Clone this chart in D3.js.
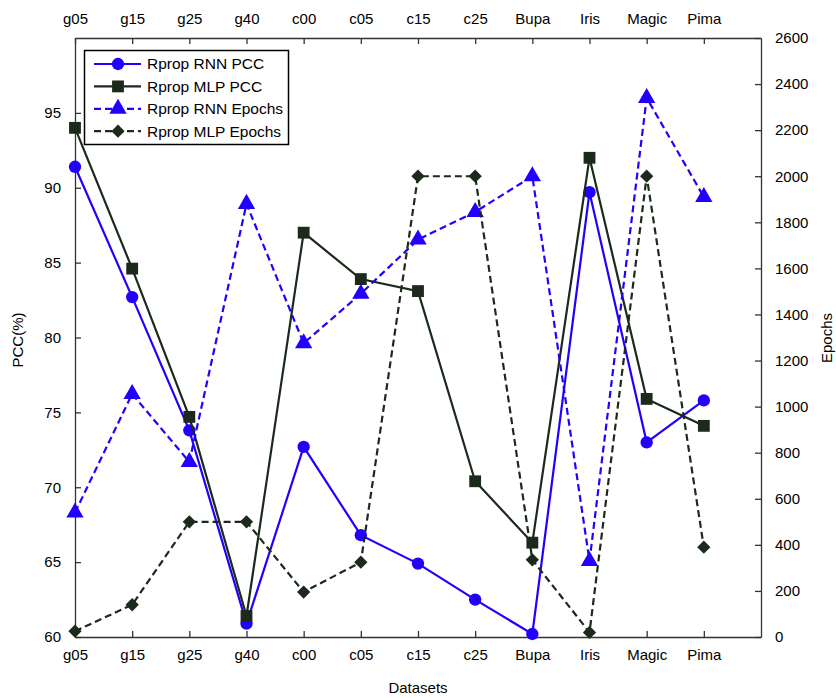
<!DOCTYPE html>
<html>
<head>
<meta charset="utf-8">
<script src="https://cdn.jsdelivr.net/npm/d3@7"></script>
<style>
  body { margin: 0; background: #fff; }
  svg { font-family: "Liberation Sans", Arial, sans-serif; }
  .axis text { font-size: 15px; fill: #000; }
  .axis path, .axis line { stroke: #333; stroke-width: 1.3; }
</style>
</head>
<body>
<svg width="836" height="698"></svg>
<script>
// categories (datasets)
var datasets = ["g05", "g15", "g25", "g40", "c00", "c05", "c15", "c25", "Bupa", "Iris", "Magic", "Pima"];
// PCC (%) values
var rnnPcc = [91.4, 82.7, 73.8, 60.9, 72.7, 66.8, 64.9, 62.5, 60.2, 89.7, 73.0, 75.8];
var mlpPcc = [94.0, 84.6, 74.7, 61.4, 87.0, 83.9, 83.1, 70.4, 66.3, 92.0, 75.9, 74.1];
// epochs
var rnnEpochs = [540, 1055, 760, 1880, 1275, 1490, 1725, 1845, 2000, 330, 2340, 1910];
var mlpEpochs = [25, 140, 500, 500, 195, 325, 2000, 2000, 335, 20, 2000, 390];
// tick values
var pccTicks = [60, 65, 70, 75, 80, 85, 90, 95];
var epochTicks = d3.range(0, 2601, 200);

var blue = "#2200ff", dark = "#1b2a1b";

var svg = d3.select("svg"),
    plotLeft = 75, plotRight = 761, plotTop = 38, plotBottom = 637;

// x축 : 인덱스 기준
var x = d3.scaleLinear().domain([0, datasets.length]).range([plotLeft, plotRight]);
var yL = d3.scaleLinear().domain([60, 100]).range([plotBottom, plotTop]);
var yR = d3.scaleLinear().domain([0, 2600]).range([plotBottom, plotTop]);

var idx = d3.range(datasets.length);

// 축 생성
svg.append("g").attr("class", "axis")
  .attr("transform", "translate(0," + plotBottom + ")")
  .call(d3.axisBottom(x).tickValues(idx).tickFormat(function(i) { return datasets[i]; })
    .tickSizeInner(-6).tickSizeOuter(0).tickPadding(12));

svg.append("g").attr("class", "axis")
  .attr("transform", "translate(0," + plotTop + ")")
  .call(d3.axisTop(x).tickValues(idx).tickFormat(function(i) { return datasets[i]; })
    .tickSizeInner(-6).tickSizeOuter(0).tickPadding(14));

svg.append("g").attr("class", "axis")
  .attr("transform", "translate(" + plotLeft + ",0)")
  .call(d3.axisLeft(yL).tickValues(pccTicks).tickSizeInner(-6).tickSizeOuter(0).tickPadding(14));

svg.append("g").attr("class", "axis")
  .attr("transform", "translate(" + plotRight + ",0)")
  .call(d3.axisRight(yR).tickValues(epochTicks).tickFormat(d3.format("d"))
    .tickSizeInner(-6).tickSizeOuter(0).tickPadding(14));

// 축 이름
svg.append("text").attr("x", 418).attr("y", 693).attr("text-anchor", "middle")
  .attr("font-size", 15).text("Datasets");
svg.append("text").attr("transform", "translate(23,340) rotate(-90)")
  .attr("text-anchor", "middle").attr("font-size", 15).text("PCC(%)");
svg.append("text").attr("transform", "translate(832,338) rotate(-90)")
  .attr("text-anchor", "middle").attr("font-size", 15).text("Epochs");

// 시리즈 정의 (rot: 마커 회전)
var series = [
  { name: "Rprop RNN PCC", values: rnnPcc, y: yL, color: blue, dash: null, symbol: d3.symbolCircle, size: 120, rot: 0 },
  { name: "Rprop MLP PCC", values: mlpPcc, y: yL, color: dark, dash: null, symbol: d3.symbolSquare, size: 140, rot: 0 },
  { name: "Rprop RNN Epochs", values: rnnEpochs, y: yR, color: blue, dash: "7,4", symbol: d3.symbolTriangle, size: 130, rot: 0 },
  { name: "Rprop MLP Epochs", values: mlpEpochs, y: yR, color: dark, dash: "7,4", symbol: d3.symbolSquare, size: 88, rot: 45 }
];

series.forEach(function(s) {
  var line = d3.line()
    .x(function(d, i) { return x(i); })
    .y(function(d) { return s.y(d); });

  svg.append("path")
    .datum(s.values)
    .attr("fill", "none")
    .attr("stroke", s.color)
    .attr("stroke-width", 2.2)
    .attr("stroke-dasharray", s.dash)
    .attr("d", line);

  svg.append("g").selectAll("path")
    .data(s.values)
    .enter().append("path")
    .attr("transform", function(d, i) {
      return "translate(" + x(i) + "," + s.y(d) + ") rotate(" + s.rot + ")";
    })
    .attr("d", d3.symbol().type(s.symbol).size(s.size))
    .attr("fill", s.color);
});

// 범례
var legend = svg.append("g");
legend.append("rect")
  .attr("x", 84.5).attr("y", 50.5).attr("width", 204).attr("height", 94)
  .attr("fill", "#fff").attr("stroke", "#000").attr("stroke-width", 1.5);

var item = legend.selectAll("g.item")
  .data(series)
  .enter().append("g")
  .attr("class", "item")
  .attr("transform", function(d, i) { return "translate(0," + (64 + i * 22.4) + ")"; });

item.append("line")
  .attr("x1", 94).attr("x2", 141)
  .attr("stroke", function(d) { return d.color; })
  .attr("stroke-width", 2.2)
  .attr("stroke-dasharray", function(d) { return d.dash; });

item.append("path")
  .attr("transform", function(d) { return "translate(118,0) rotate(" + d.rot + ")"; })
  .attr("d", function(d) { return d3.symbol().type(d.symbol).size(d.size)(); })
  .attr("fill", function(d) { return d.color; });

item.append("text")
  .attr("x", 147).attr("dy", "0.35em")
  .attr("font-size", 15.5)
  .text(function(d) { return d.name; });
</script>
</body>
</html>
